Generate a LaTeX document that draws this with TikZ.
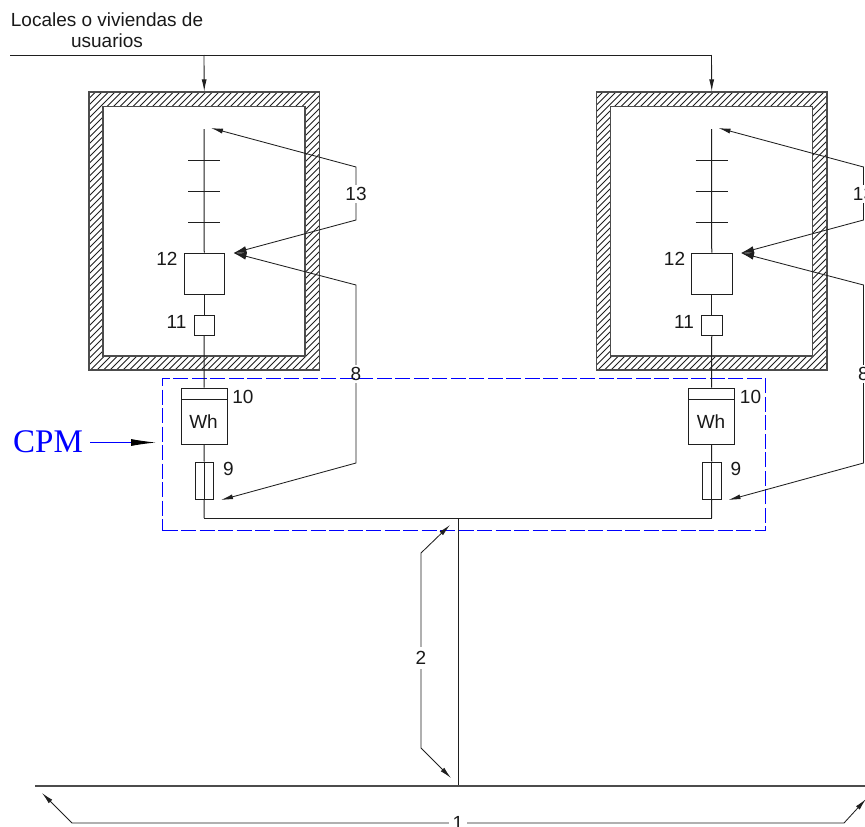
\documentclass[tikz,border=0pt]{standalone}
\usepackage{fontspec}
\setmainfont{Liberation Sans}
\newfontfamily\cpmfont{Liberation Serif}
\usetikzlibrary{arrows.meta}
\definecolor{ink}{gray}{0.12}
\definecolor{wallink}{gray}{0.3}
\tikzset{
  ln/.style={draw=ink,line width=1pt},
  lead/.style={draw=ink,line width=0.85pt},
  arr/.style={lead,-{Latex[length=12pt,width=5pt]}},
  bigarr/.style={lead,-{Latex[length=13pt,width=7pt]}},
  boxn/.style={draw=ink,line width=1pt,fill=white,inner sep=0pt,minimum width=#1},
  lbl/.style={inner sep=0pt,font=\fontsize{19}{21}\selectfont,text=black!90},
  gaplbl/.style={lbl,minimum width=#1,minimum height=18pt},
  wallout/.style={draw=wallink,line width=1.2pt,inner sep=0pt,minimum width=230.5pt,minimum height=278pt},
  wallin/.style={draw=wallink,line width=1.2pt,fill=white,inner sep=0pt,minimum width=202pt,minimum height=249.5pt},
  hatchline/.style={draw=ink,line width=0.75pt},
  cpmbox/.style={draw=blue,dash pattern=on 15pt off 3.5pt,line width=1pt,inner sep=0pt,minimum width=602.5pt,minimum height=152.5pt}
}
\begin{document}
\begin{tikzpicture}[x=1pt,y=-1pt]
\useasboundingbox (0,0) rectangle (865,827);
\clip (0,0) rectangle (865,827);
% walls
\foreach \p/\dx in {a/0,b/507.5}{
  \begin{scope}
    \clip (89+\dx,92) rectangle (319.5+\dx,370);
    \foreach \c in {0,6.5,...,640}{
      \draw[hatchline] (89+\dx+\c,92) -- (89+\dx+\c-300,392);
    }
  \end{scope}
  \node[wallout] (\p-wall) at (204.25+\dx,231) {};
  \node[wallin] (\p-room) at (204+\dx,231.25) {};
}
% CPM box
\node[cpmbox] (cpm) at (463.75,454.25) {};
% top bus and text
\node[lbl,align=center] (title) at (107,30.5) {Locales o viviendas de\\usuarios};
\coordinate (tl) at (10,55);
\coordinate (ta) at (204,55);
\coordinate (tb) at (711.5,55);
\draw[ln] (tl) -- (tb);
\draw[arr] (ta) -- (a-wall.north);
\draw[arr] (tb) -- (b-wall.north);
% units
\foreach \p/\dx in {a/0,b/507.5}{
  \begin{scope}[xshift=\dx pt]
    \coordinate (\p-top) at (204,129);
    \coordinate (\p-t1l) at (188,160);\coordinate (\p-t1r) at (220,160);
    \coordinate (\p-t2l) at (188,191);\coordinate (\p-t2r) at (220,191);
    \coordinate (\p-t3l) at (188,222);\coordinate (\p-t3r) at (220,222);
    \node[boxn=40.5pt,minimum height=41pt] (\p-b12) at (204.25,273.5) {};
    \node[boxn=20.5pt,minimum height=20pt] (\p-b11) at (204.25,325) {};
    \node[boxn=46pt,minimum height=56pt] (\p-meter) at (204,416) {};
    \coordinate (\p-ml) at (181,399);\coordinate (\p-mr) at (227,399);
    \node[lbl] (\p-wh) at (203.5,422) {Wh};
    \node[boxn=18.5pt,minimum height=37pt] (\p-fuse) at (204.25,480.5) {};
    \coordinate (\p-bus) at (204,518);
    \node[lbl] (\p-l12) at (167,259) {12};
    \node[lbl] (\p-l11) at (176.5,322) {11};
    \node[lbl] (\p-l10) at (243,397) {10};
    \node[lbl] (\p-l9) at (228.5,469) {9};
    % leaders
    \node[gaplbl=1pt] (\p-l13) at (356,194) {13};
    \node[gaplbl=1pt] (\p-l8) at (356,374) {8};
    \coordinate (\p-k1) at (356,167);
    \coordinate (\p-k2) at (356,220);
    \coordinate (\p-k3) at (356,285);
    \coordinate (\p-k4) at (356,463);
    \coordinate (\p-tip1) at (211,128);
    \coordinate (\p-tip2) at (233.5,253);
    \coordinate (\p-tip3) at (221,500);
  \end{scope}
  \draw[ln] (\p-top) -- (\p-b12.north);
  \draw[ln] (\p-t1l) -- (\p-t1r);
  \draw[ln] (\p-t2l) -- (\p-t2r);
  \draw[ln] (\p-t3l) -- (\p-t3r);
  \draw[ln] (\p-b12.south) -- (\p-b11.north);
  \draw[ln] (\p-b11.south) -- (\p-meter.north);
  \draw[ln] (\p-ml) -- (\p-mr);
  \draw[ln] (\p-meter.south) -- (\p-fuse.north);
  \draw[ln] (\p-fuse.north) -- (\p-fuse.south);
  \draw[ln] (\p-fuse.south) -- (\p-bus);
  \draw[arr] (\p-l13.north) -- (\p-k1) -- (\p-tip1);
  \draw[bigarr] (\p-l13.south) -- (\p-k2) -- (\p-tip2);
  \draw[bigarr] (\p-l8.north) -- (\p-k3) -- (\p-tip2);
  \draw[arr] (\p-l8.south) -- (\p-k4) -- (\p-tip3);
}
% main
\coordinate (busj) at (458,518);
\coordinate (gndj) at (458,786);
\coordinate (gl) at (35,786);
\coordinate (gr) at (865,786);
\draw[ln] (a-bus) -- (b-bus);
\draw[ln] (busj) -- (gndj);
\draw[draw=wallink,line width=1.5pt] (gl) -- (gr);
% label 2
\node[gaplbl=1pt,minimum height=22pt] (l2) at (421,658) {2};
\coordinate (k2a) at (421,553);
\coordinate (k2b) at (421,748);
\coordinate (tip2a) at (450,525);
\coordinate (tip2b) at (451,778);
\draw[arr] (l2.north) -- (k2a) -- (tip2a);
\draw[arr] (l2.south) -- (k2b) -- (tip2b);
% label 1
\node[gaplbl=18pt,minimum height=6pt] (l1) at (458,823) {1};
\coordinate (k1a) at (72,823);
\coordinate (k1b) at (844,823);
\coordinate (tip1a) at (42,793);
\coordinate (tip1b) at (866,799);
\draw[arr] (l1.west |- k1a) -- (k1a) -- (tip1a);
\draw[arr] (l1.east |- k1b) -- (k1b) -- (tip1b);
% CPM
\node[inner sep=0pt,text=blue,font=\cpmfont\fontsize{33}{36}\selectfont] (cpmt) at (48,442) {CPM};
\coordinate (cpmtip) at (156,442.5);
\coordinate (cpmst) at (90,442.5);
\draw[draw=blue,line width=0.9pt,-{Latex[length=25pt,width=7pt,black]}] (cpmst) -- (cpmtip);
\end{tikzpicture}
\end{document}
